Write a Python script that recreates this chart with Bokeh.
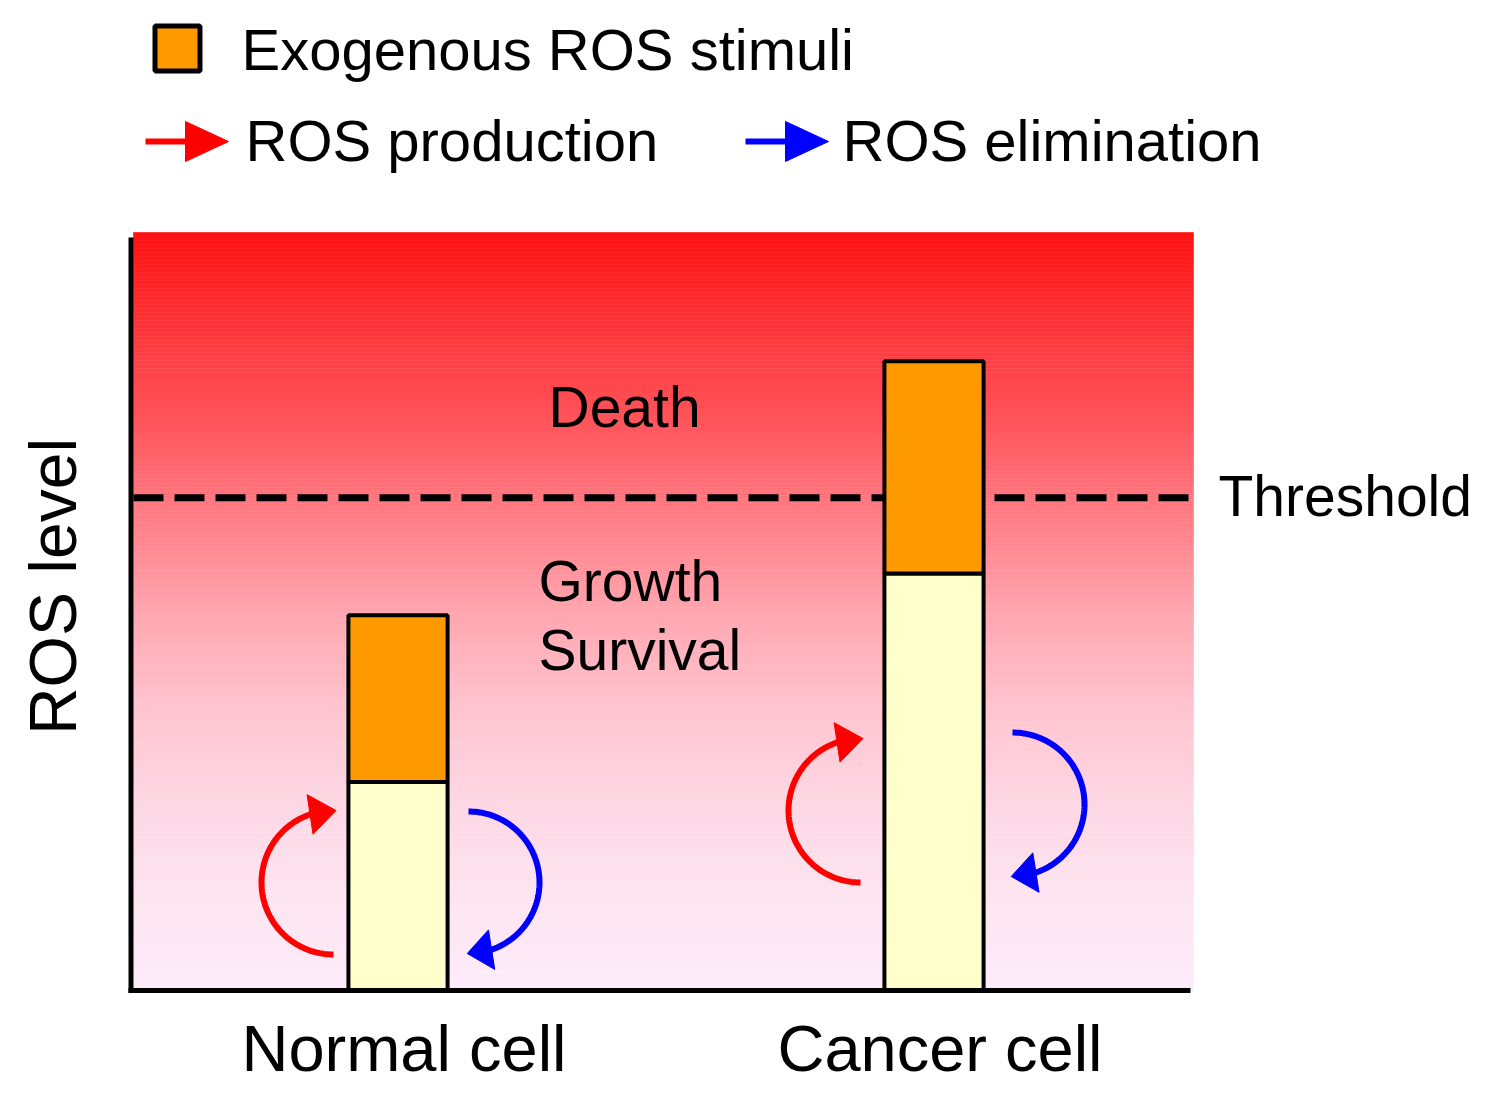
import numpy as np
from bokeh.plotting import figure
from bokeh.models import Range1d
from bokeh.core.properties import value
from bokeh.embed import file_html
from bokeh.resources import INLINE

# ---------------- data ----------------
categories = ["Normal cell", "Cancer cell"]
cat_pos = [1, 2]
basal_ros = [2.75, 5.5]          # intrinsic ROS level
exogenous_ros = [2.2, 2.8]       # added by exogenous stimuli
threshold = 6.5
y_axis_top = 10.0
legend_labels = ["Exogenous ROS stimuli", "ROS production", "ROS elimination"]
zone_labels = ["Death", "Growth", "Survival"]
threshold_label = "Threshold"
y_label = "ROS level"

# ---------------- layout helpers (canvas pixels -> data) ----------------
W, H = 1484, 1091
PX_X, PX_Y = 536.0, 75.8
X0_PX, Y0_PX = 397.5, 990.0
BASE_CORR = 0.37   # empirical baseline correction (fraction of font size)


def dx(X):
    return 1 + (np.asarray(X, dtype=float) - X0_PX) / PX_X


def dy(Y):
    return (Y0_PX - np.asarray(Y, dtype=float)) / PX_Y


FONT = value("Liberation Sans")

p = figure(width=W, height=H,
           x_range=Range1d(float(dx(0)), float(dx(W))),
           y_range=Range1d(float(dy(H)), float(dy(0))),
           output_backend="svg", toolbar_location=None,
           x_axis_location=None, y_axis_location=None,
           min_border=0)
p.grid.visible = False
p.outline_line_color = None
p.background_fill_color = "white"
p.border_fill_color = "white"

# ---------------- gradient background ----------------
stops_f = [0.0, 0.1, 0.25, 0.35, 0.5, 0.62, 0.75, 0.87, 1.0]
stops_c = np.array([(255, 16, 16), (255, 45, 48), (255, 85, 92), (255, 118, 126),
                    (255, 165, 175), (255, 195, 205), (254, 215, 228),
                    (253, 228, 240), (253, 236, 250)], dtype=float)
n = 190
edges = np.linspace(0, y_axis_top, n + 1)
mid_f = 1 - (edges[:-1] + edges[1:]) / 2 / y_axis_top
cols = []
for f in mid_f:
    rgb = [np.interp(f, stops_f, stops_c[:, k]) for k in range(3)]
    cols.append("#%02x%02x%02x" % tuple(int(round(v)) for v in rgb))
p.quad(left=float(dx(133)), right=float(dx(1193)), bottom=edges[:-1], top=edges[1:],
       fill_color=cols, line_color=cols, line_width=0.6)

# ---------------- threshold ----------------
p.line([float(dx(133)), float(dx(1193))], [threshold, threshold], line_width=7,
       line_color="black", line_dash="30 11", line_cap="butt")

# ---------------- bars ----------------
tops = [b + e for b, e in zip(basal_ros, exogenous_ros)]
p.vbar(x=cat_pos, width=0.185, bottom=0, top=basal_ros, fill_color="#FFFFCC",
       line_color="black", line_width=4)
p.vbar(x=cat_pos, width=0.185, bottom=basal_ros, top=tops, fill_color="#FF9900",
       line_color="black", line_width=4)

# ---------------- axis lines ----------------
p.line([float(dx(130.5))] * 2, [float(dy(992.5)), float(dy(237))], line_width=5, line_color="black")
p.line([float(dx(128)), float(dx(1190))], [0, 0], line_width=5, line_color="black")

# ---------------- curved arrows ----------------
def arc_arrow(cx, cy, r, a_start, a_base, a_tip, color):
    sgn = np.sign(a_tip - a_base)
    th = np.radians(np.linspace(a_start, a_base + 3 * sgn, 90))
    X = cx + r * np.cos(th)
    Y = cy - r * np.sin(th)
    p.line(dx(X), dy(Y), line_width=6, line_color=color, line_cap="butt")
    bx, by = cx + r * np.cos(np.radians(a_base)), cy - r * np.sin(np.radians(a_base))
    tx, ty = cx + r * np.cos(np.radians(a_tip)), cy - r * np.sin(np.radians(a_tip))
    ux, uy = tx - bx, ty - by
    L = np.hypot(ux, uy)
    nx, ny = -uy / L, ux / L
    hx = [bx + 20 * nx, tx, bx - 20 * nx]
    hy = [by + 20 * ny, ty, by - 20 * ny]
    p.patch(dx(hx), dy(hy), fill_color=color, line_color=color, line_width=1)


arc_specs = [
    (333, 882, 72, 270, 109, 88, "#FF0000"),
    (468, 882, 71, 90, -71, -91, "#0000FF"),
    (860, 810, 72, 270, 109, 88, "#FF0000"),
    (1012, 804, 72, 90, -71, -91, "#0000FF"),
]
for spec in arc_specs:
    arc_arrow(*spec)

# ---------------- legend ----------------
p.scatter(x=[float(dx(177))], y=[float(dy(48))], marker="square", size=45,
          fill_color="#FF9900", line_color="black", line_width=5)
for x0, col in [(145, "#FF0000"), (745, "#0000FF")]:
    p.line([float(dx(x0)), float(dx(x0 + 47))], [float(dy(141))] * 2, line_width=6,
           line_color=col, line_cap="butt")
    p.patch(dx([x0 + 40, x0 + 83, x0 + 40]), dy([121, 141, 161]), fill_color=col,
            line_color=col, line_width=1)


def txt(X, Y, s, size, align="left", angle=0.0, x_offset=0):
    sz = float(size.replace("px", ""))
    if angle == 0.0:
        Y = np.atleast_1d(np.asarray(Y, dtype=float)) - BASE_CORR * sz
        X = np.atleast_1d(np.asarray(X, dtype=float))
    else:
        X = np.atleast_1d(np.asarray(X, dtype=float)) - BASE_CORR * sz
        Y = np.atleast_1d(np.asarray(Y, dtype=float))
    return X, Y, sz


def put(X, Y, s, size, align="left", angle=0.0, x_offset=0, data_x=None):
    Xc, Yc, sz = txt(X, Y, s, size, align, angle)
    xs = list(data_x) if data_x is not None else list(dx(Xc))
    p.text(x=xs, y=list(dy(Yc)) * (len(s) if len(Yc) == 1 else 1), text=list(s),
           text_font=FONT, text_font_size=value(size), text_align=align,
           text_baseline="alphabetic", text_color="black", angle=angle,
           x_offset=x_offset)


put(241, 70, [legend_labels[0]], "58px")
put(245, 161, [legend_labels[1]], "58px")
put(842, 161, [legend_labels[2]], "58px")

# ---------------- zone labels ----------------
put(548, 428, [zone_labels[0]], "57px")
put(538, 602, [zone_labels[1]], "57px")
put(538, 671, [zone_labels[2]], "57px")
put(1218, 517, [threshold_label], "57px")

# ---------------- category & axis labels ----------------
put(0, 1072, categories, "65px", align="center", x_offset=6, data_x=cat_pos)
put(77, 586, [y_label], "66px", align="center", angle=np.pi / 2)

open("out.html", "w").write(file_html(p, INLINE))
